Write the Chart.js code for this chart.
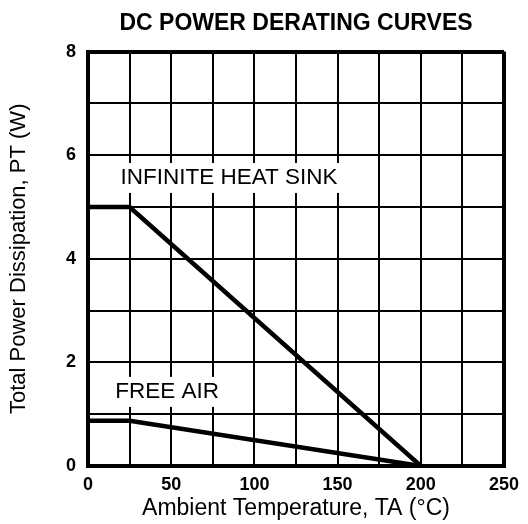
<!DOCTYPE html>
<html lang="en">
<head>
  <meta charset="UTF-8" />
  <title>DC Power Derating Curves</title>
  <script src="https://cdn.jsdelivr.net/npm/chart.js"></script>
  <style>
    html, body { margin: 0; padding: 0; background: #fff; }
    #wrap { width: 528px; height: 524px; }
  </style>
</head>
<body>
  <div id="wrap"><canvas id="chart" width="528" height="524"></canvas></div>

  <script>
    // data
    const temps = [0, 25, 200];          // ambient temperature, °C
    const heatSink = [5, 5, 0];          // infinite heat sink, W
    const freeAir = [0.875, 0.875, 0];   // free air, W
    const xTicks = [0, 50, 100, 150, 200, 250];
    const yTicks = [0, 2, 4, 6, 8];

    const FONT = "'Liberation Sans', Arial, Helvetica, sans-serif";
    const toPoints = (xs, ys) => xs.map((x, i) => ({ x: x, y: ys[i] }));

    // curve names sit on white boxes inside the plot
    const curveLabels = {
      id: 'curveLabels',
      afterDatasetsDraw(chart) {
        const { ctx, scales: { x, y } } = chart;
        const items = [
          { text: 'INFINITE HEAT SINK', x: 84.7, y: 5.58 },
          { text: 'FREE AIR', x: 47.5, y: 1.45 }
        ];
        ctx.save();
        ctx.font = '22.5px ' + FONT;
        ctx.textAlign = 'center';
        ctx.textBaseline = 'middle';
        items.forEach(it => {
          const px = x.getPixelForValue(it.x), py = y.getPixelForValue(it.y);
          const w = ctx.measureText(it.text).width;
          ctx.fillStyle = '#fff';
          ctx.fillRect(px - w / 2 - 3, py - 14, w + 6, 30);
          ctx.fillStyle = '#000';
          ctx.fillText(it.text, px, py + 1);
        });
        ctx.restore();
      }
    };

    const edge = (v, lo, hi) => (v === lo || v === hi) ? 4 : 2;

    new Chart(document.getElementById('chart'), {
      type: 'line',
      data: {
        datasets: [
          { label: 'Infinite Heat Sink', data: toPoints(temps, heatSink), borderColor: '#000', borderWidth: 4.5, pointRadius: 0, tension: 0 },
          { label: 'Free Air', data: toPoints(temps, freeAir), borderColor: '#000', borderWidth: 4.5, pointRadius: 0, tension: 0 }
        ]
      },
      options: {
        responsive: false,
        animation: false,
        layout: { padding: { left: 0, right: 24, top: 0, bottom: 0 } },
        plugins: {
          legend: { display: false },
          tooltip: { enabled: false },
          title: {
            display: true,
            fullSize: false,
            text: 'DC POWER DERATING CURVES',
            color: '#000',
            font: { family: FONT, size: 23, weight: 'bold' },
            padding: { top: 10, bottom: 14 }
          }
        },
        scales: {
          x: {
            type: 'linear',
            min: 0, max: 250,
            afterFit: s => { s.height = 58; },
            afterBuildTicks: s => { s.ticks = []; for (let v = 0; v <= 250; v += 25) s.ticks.push({ value: v }); },
            ticks: {
              color: '#000',
              padding: 8,
              maxRotation: 0,
              autoSkip: false,
              font: { family: FONT, size: 18, weight: 'bold' },
              callback: v => xTicks.includes(v) ? String(v) : ''
            },
            grid: { color: '#000', lineWidth: c => edge(c.tick && c.tick.value, 0, 250), drawTicks: false },
            border: { color: '#000', width: 4 },
            title: {
              display: true,
              text: 'Ambient Temperature, TA (°C)',
              color: '#000',
              font: { family: FONT, size: 23 },
              padding: { top: 0, bottom: 2 }
            }
          },
          y: {
            min: 0, max: 8,
            afterFit: s => { s.width = 88; },
            afterBuildTicks: s => { s.ticks = []; for (let v = 0; v <= 8; v += 1) s.ticks.push({ value: v }); },
            ticks: {
              color: '#000',
              padding: 12,
              autoSkip: false,
              font: { family: FONT, size: 18, weight: 'bold' },
              callback: v => yTicks.includes(v) ? String(v) : ''
            },
            grid: { color: '#000', lineWidth: c => edge(c.tick && c.tick.value, 0, 8), drawTicks: false },
            border: { color: '#000', width: 4 },
            title: {
              display: true,
              text: 'Total Power Dissipation, PT (W)',
              color: '#000',
              font: { family: FONT, size: 22 },
              padding: { top: 6, bottom: 0 }
            }
          }
        }
      },
      plugins: [curveLabels]
    });
  </script>
</body>
</html>
